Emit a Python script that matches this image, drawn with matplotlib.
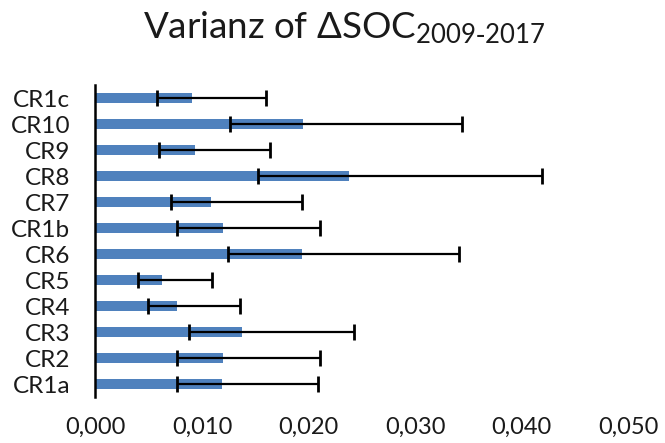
import numpy as np
import matplotlib
matplotlib.use("Agg")
import matplotlib.pyplot as plt

plt.rcParams['font.family'] = ['Lato', 'DejaVu Sans']
plt.rcParams['mathtext.default'] = 'regular'

# categories bottom to top
categories = ["CR1a", "CR2", "CR3", "CR4", "CR5", "CR6", "CR1b", "CR7", "CR8", "CR9", "CR10", "CR1c"]
variance = [0.01184, 0.01199, 0.01371, 0.00762, 0.00621, 0.01940, 0.01196, 0.01087, 0.02378, 0.00930, 0.01950, 0.00908]
lower = [0.00761, 0.00761, 0.00877, 0.00490, 0.00396, 0.01246, 0.00761, 0.00708, 0.01524, 0.00596, 0.01262, 0.00577]
upper = [0.02090, 0.02106, 0.02431, 0.01356, 0.01090, 0.03410, 0.02106, 0.01937, 0.04189, 0.01640, 0.03441, 0.01600]
xticks = [0.0, 0.01, 0.02, 0.03, 0.04, 0.05]

variance = np.array(variance)
err = [variance - np.array(lower), np.array(upper) - variance]
y = np.arange(len(categories))

fig = plt.figure(figsize=(6.65, 4.43), dpi=100)
ax = fig.add_axes([0.1436, 0.1038, 0.8008, 0.7043])

ax.barh(y, variance, height=0.4, color="#4F81BD")
ax.errorbar(variance, y, xerr=err, fmt="none", ecolor="black",
            elinewidth=1.6, capsize=5.5, capthick=2)

ax.set_xlim(0, 0.05)
ax.set_ylim(-0.5, len(categories) - 0.5)
ax.set_yticks(y)
ax.set_yticklabels(categories, fontsize=17.5, color="#1a1a1a")
ax.set_xticks(xticks)
ax.set_xticklabels([f"{t:.3f}".replace(".", ",") for t in xticks], fontsize=17, color="#1a1a1a")
ax.tick_params(axis="y", length=0, pad=18)
ax.tick_params(axis="x", length=0, pad=14)

for s in ["top", "right", "bottom"]:
    ax.spines[s].set_visible(False)
ax.spines["left"].set_color("black")
ax.spines["left"].set_linewidth(1.8)

fig.text(0.517, 0.914, r"Varianz of ΔSOC$_{2009\text{-}2017}$", ha="center", va="baseline",
         fontsize=26.5, color="#1a1a1a")

fig.savefig("out.png", dpi=100)
